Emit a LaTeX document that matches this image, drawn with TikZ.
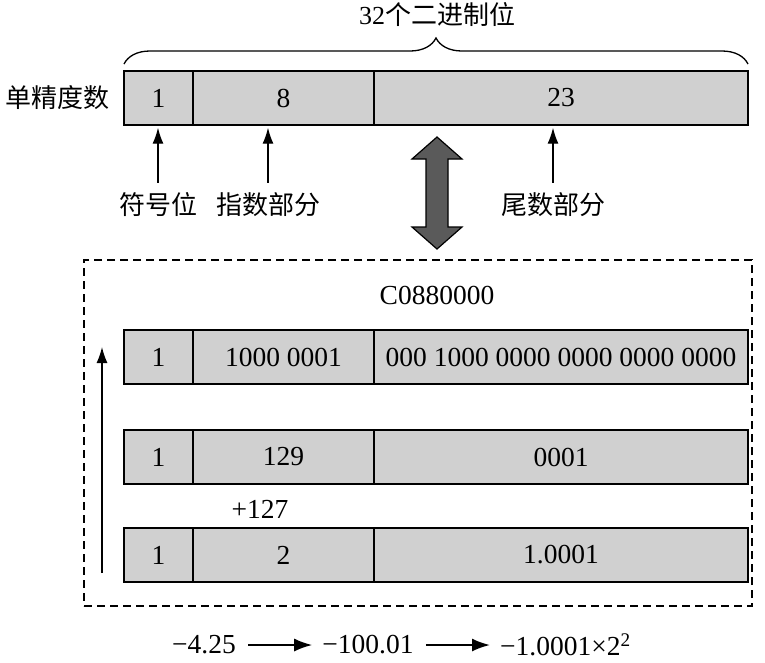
\documentclass[tikz,border=0pt]{standalone}
\usepackage{fontspec}
\setmainfont{Liberation Serif}
\newfontfamily\cjk{Noto Sans CJK SC}
\usetikzlibrary{arrows.meta,decorations.pathreplacing}
\definecolor{cellgray}{RGB}{208,208,208}
\definecolor{bigarrow}{RGB}{90,90,90}
\tikzset{
  cell/.style={draw=black, line width=1.4pt, fill=cellgray, minimum height=54pt, inner sep=0pt, font=\fontsize{27.5}{30}\selectfont},
  lbl/.style={inner sep=0pt, font=\fontsize{27.5}{30}\selectfont},
  cjklbl/.style={inner sep=0pt, font=\cjk\fontsize{26}{29}\selectfont},
  arr/.style={line width=1.3pt, -{Latex[length=16pt,width=11pt]}},
}
\begin{document}
\begin{tikzpicture}[x=1pt,y=-1pt]
\useasboundingbox (0,0) rectangle (765,662);
% top row
\node[cell, minimum width=69pt] (t1) at (158.5,98) {1};
\node[cell, minimum width=181pt] (t2) at (283.5,98) {8};
\node[cell, minimum width=374pt] (t3) at (561,98) {23};
\node[cjklbl, anchor=east] (sp) at (110,98) {单精度数};
% brace
\coordinate (b0) at (124,64);
\coordinate (b1) at (748,64);
\draw[line width=1.3pt, decorate, decoration={brace, amplitude=26pt}] (b0) -- (b1);
\node[cjklbl] (bits) at (437,15) {{\fontspec{Liberation Serif}32}个二进制位};
% labels and arrows
\node[cjklbl] (l1) at (158,205) {符号位};
\node[cjklbl] (l2) at (268,205) {指数部分};
\node[cjklbl] (l3) at (553,205) {尾数部分};
\draw[arr, shorten <=10pt, shorten >=2pt] (l1.north) -- (l1.north |- t1.south);
\draw[arr, shorten <=10pt, shorten >=2pt] (l2.north) -- (l2.north |- t2.south);
\draw[arr, shorten <=10pt, shorten >=2pt] (l3.north) -- (l3.north |- t3.south);
% double arrow
\draw[line width=1.2pt, fill=bigarrow, line join=miter] (437,137) -- (462,159) -- (448,159) -- (448,227) -- (462,227) -- (437,249) -- (412,227) -- (426,227) -- (426,159) -- (412,159) -- cycle;
% dashed box
\node[draw=black, line width=1.5pt, dash pattern=on 8pt off 5pt, minimum width=668pt, minimum height=346pt, inner sep=0pt] (box) at (418,433) {};
\node[lbl] (hex) at (437,295) {C0880000};
% row 1
\node[cell, minimum width=69pt] (a1) at (158.5,357) {1};
\node[cell, minimum width=181pt] (a2) at (283.5,357) {1000 0001};
\node[cell, minimum width=374pt] (a3) at (561,357) {000 1000 0000 0000 0000 0000};
% row 2
\node[cell, minimum width=69pt] (m1) at (158.5,457) {1};
\node[cell, minimum width=181pt] (m2) at (283.5,457) {129};
\node[cell, minimum width=374pt] (m3) at (561,457) {0001};
\node[lbl] (p127) at (260,509) {+127};
% row 3
\node[cell, minimum width=69pt] (c1) at (158.5,555) {1};
\node[cell, minimum width=181pt] (c2) at (283.5,555) {2};
\node[cell, minimum width=374pt] (c3) at (561,555) {1.0001};
% left arrow
\coordinate (la0) at (102,573);
\coordinate (la1) at (102,347);
\draw[arr] (la0) -- (la1);
% bottom formula
\node[lbl] (f1) at (204,645) {−4.25};
\node[lbl] (f2) at (368,645) {−100.01};
\node[lbl, anchor=west] (f3) at (500,645) {−1.0001×2\textsuperscript{2}};
\draw[line width=2pt, -{Latex[length=18pt,width=13pt]}, shorten <=12pt, shorten >=10pt] (f1.east) -- (f2.west);
\draw[line width=2pt, -{Latex[length=18pt,width=13pt]}, shorten <=12pt, shorten >=10pt] (f2.east) -- (f3.west);
\end{tikzpicture}
\end{document}
